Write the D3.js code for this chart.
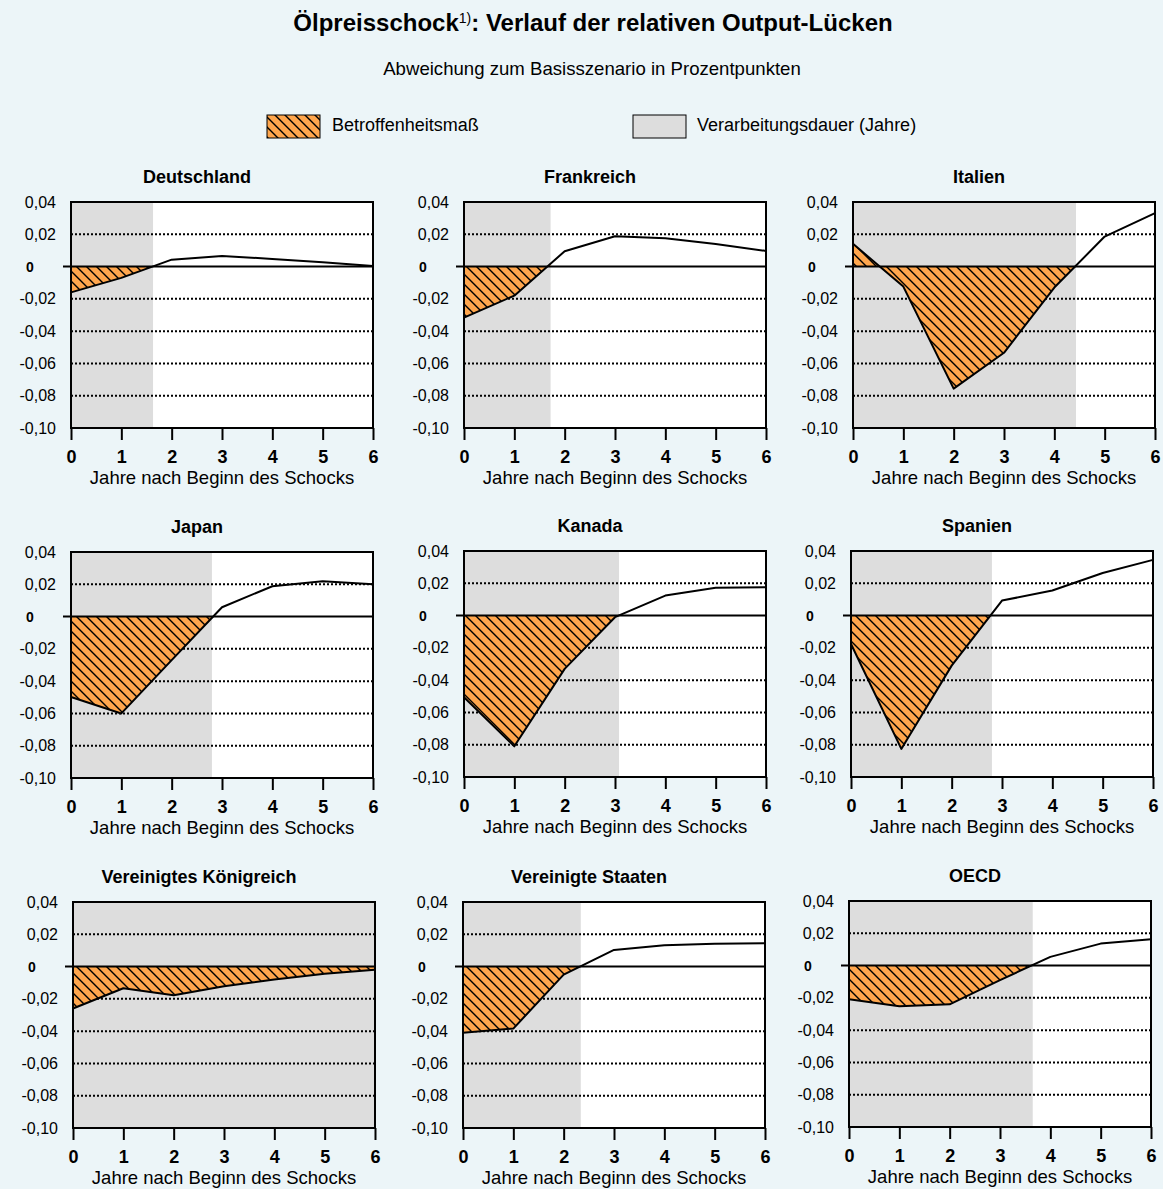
<!DOCTYPE html>
<html><head><meta charset="utf-8">
<script src="https://cdn.jsdelivr.net/npm/d3@7"></script>
<style>
body{margin:0;background:#ECF5F8;}
svg{display:block;font-family:Arial,"Liberation Sans",sans-serif;}
</style>
</head><body>
<svg id="c" width="1163" height="1189"></svg>
<script>
// ---------- data ----------
const years = [0, 1, 2, 3, 4, 5, 6];
const xTickLabels = ["0", "1", "2", "3", "4", "5", "6"];
const yTicks = [0.04, 0.02, 0, -0.02, -0.04, -0.06, -0.08, -0.10];
const yTickLabels = ["0,04", "0,02", "0", "-0,02", "-0,04", "-0,06", "-0,08", "-0,10"];
const countries = ["Deutschland", "Frankreich", "Italien", "Japan", "Kanada", "Spanien",
  "Vereinigtes Königreich", "Vereinigte Staaten", "OECD"];
const deutschland = [-0.016, -0.007, 0.0043, 0.0066, 0.0047, 0.0027, 0.0004];
const frankreich = [-0.0316, -0.018, 0.0095, 0.0188, 0.0176, 0.014, 0.0097];
const italien = [0.0141, -0.0124, -0.0756, -0.0534, -0.013, 0.0186, 0.0331];
const japan = [-0.0498, -0.060, -0.027, 0.0058, 0.0188, 0.0219, 0.020];
const kanada = [-0.0506, -0.081, -0.033, -0.001, 0.0124, 0.0173, 0.0175];
const spanien = [-0.0176, -0.0826, -0.031, 0.0093, 0.0155, 0.0264, 0.0345];
const vereinigtesKoenigreich = [-0.026, -0.0134, -0.0178, -0.0122, -0.008, -0.0045, -0.0019];
const vereinigteStaaten = [-0.041, -0.0384, -0.005, 0.0103, 0.0132, 0.0142, 0.0145];
const oecd = [-0.0209, -0.0252, -0.024, -0.009, 0.0054, 0.0136, 0.0163];
// Verarbeitungsdauer (Jahre)
const verarbeitungsdauer = [1.63, 1.72, 4.43, 2.80, 3.08, 2.80, 6, 2.34, 3.65];

const series = [deutschland, frankreich, italien, japan, kanada, spanien,
  vereinigtesKoenigreich, vereinigteStaaten, oecd];

// ---------- layout ----------
const panelLeft = [71, 464, 853, 71, 464, 851, 73, 463, 849];
const panelTop = [202, 202, 202, 552, 551, 551, 902, 902, 901];
const PW = 302, PH = 226;
const ORANGE = "#FFA64D", GRAY = "#DDDDDD";

const svg = d3.select("#c");
svg.append("rect").attr("width", 1163).attr("height", 1189).attr("fill", "#ECF5F8");

const defs = svg.append("defs");
const pat = defs.append("pattern").attr("id", "hatch")
  .attr("patternUnits", "userSpaceOnUse").attr("width", 10).attr("height", 10);
pat.append("rect").attr("width", 10).attr("height", 10).attr("fill", ORANGE);
pat.append("path").attr("d", "M-1,-1 L11,11 M-6,4 L4,14 M4,-6 L14,4")
  .attr("stroke", "#000").attr("stroke-width", 1.4);

// title
const title = svg.append("text").attr("x", 593).attr("y", 31)
  .attr("text-anchor", "middle").attr("font-size", 24).attr("font-weight", "bold").attr("fill", "#000");
title.append("tspan").text("Ölpreisschock");
title.append("tspan").attr("font-size", 14).attr("font-weight", "normal").attr("dy", -8).text("1)");
title.append("tspan").attr("dy", 8).text(": Verlauf der relativen Output-Lücken");

svg.append("text").attr("x", 592).attr("y", 75).attr("text-anchor", "middle")
  .attr("font-size", 18.6).attr("fill", "#000")
  .text("Abweichung zum Basisszenario in Prozentpunkten");

// legend
svg.append("rect").attr("x", 267).attr("y", 115).attr("width", 53).attr("height", 23)
  .attr("fill", "url(#hatch)").attr("stroke", "#000").attr("stroke-width", 1);
svg.append("text").attr("x", 332).attr("y", 131).attr("font-size", 18).text("Betroffenheitsmaß");
svg.append("rect").attr("x", 633).attr("y", 115).attr("width", 53).attr("height", 23)
  .attr("fill", GRAY).attr("stroke", "#000").attr("stroke-width", 1);
svg.append("text").attr("x", 697).attr("y", 131).attr("font-size", 18).text("Verarbeitungsdauer (Jahre)");

countries.forEach((name, i) => {
  const L = panelLeft[i], T = panelTop[i];
  const vals = series[i];
  const data = years.map((yr, k) => ({ yr, v: vals[k] }));
  const x = d3.scaleLinear().domain([0, 6]).range([L, L + PW]);
  const y = d3.scaleLinear().domain([-0.10, 0.04]).range([T + PH, T]);
  const g = svg.append("g");

  g.append("rect").attr("x", x(0)).attr("y", y(0.04)).attr("width", x(6) - x(0))
    .attr("height", y(-0.10) - y(0.04)).attr("fill", "#fff");
  g.append("rect").attr("x", x(0)).attr("y", y(0.04)).attr("width", x(verarbeitungsdauer[i]) - x(0))
    .attr("height", y(-0.10) - y(0.04)).attr("fill", GRAY);

  // dotted grid
  g.selectAll("line.grid").data(yTicks.filter(v => v !== 0 && v !== 0.04 && v !== -0.10))
    .enter().append("line").attr("class", "grid")
    .attr("x1", x(0)).attr("x2", x(6)).attr("y1", d => y(d)).attr("y2", d => y(d))
    .attr("stroke", "#000").attr("stroke-width", 2).attr("stroke-dasharray", "2,2");

  // hatched area
  const cid = "clip" + i;
  defs.append("clipPath").attr("id", cid).append("rect")
    .attr("x", x(0)).attr("y", y(0.04)).attr("width", x(verarbeitungsdauer[i]) - x(0))
    .attr("height", y(-0.10) - y(0.04));
  const area = d3.area().x(d => x(d.yr)).y0(y(0)).y1(d => y(d.v));
  g.append("path").datum(data).attr("d", area).attr("fill", "url(#hatch)")
    .attr("clip-path", `url(#${cid})`);

  // zero line
  g.append("line").attr("x1", x(0) - 8).attr("x2", x(6)).attr("y1", y(0)).attr("y2", y(0))
    .attr("stroke", "#000").attr("stroke-width", 2);

  // curve
  const line = d3.line().x(d => x(d.yr)).y(d => y(d.v));
  g.append("path").datum(data).attr("d", line).attr("fill", "none")
    .attr("stroke", "#000").attr("stroke-width", 2).attr("stroke-linejoin", "round");

  // frame
  g.append("rect").attr("x", x(0)).attr("y", y(0.04)).attr("width", x(6) - x(0))
    .attr("height", y(-0.10) - y(0.04)).attr("fill", "none")
    .attr("stroke", "#000").attr("stroke-width", 2);

  // x axis
  const xa = g.append("g").attr("transform", `translate(0,${y(-0.10)})`)
    .call(d3.axisBottom(x).tickValues(years).tickSize(12).tickPadding(10)
      .tickFormat((d, k) => xTickLabels[k]));
  xa.select(".domain").remove();
  xa.selectAll("line").attr("stroke", "#000").attr("stroke-width", 2);
  xa.selectAll("text").attr("font-size", 18).attr("font-weight", "bold")
    .attr("font-family", "Arial, 'Liberation Sans', sans-serif").attr("fill", "#000");

  // y axis
  const ya = g.append("g").attr("transform", `translate(${x(0)},0)`)
    .call(d3.axisLeft(y).tickValues(yTicks).tickSize(0).tickPadding(15)
      .tickFormat((d, k) => yTickLabels[k]));
  ya.select(".domain").remove();
  ya.selectAll("text").attr("font-size", 16)
    .attr("font-family", "Arial, 'Liberation Sans', sans-serif").attr("fill", "#000");
  ya.selectAll(".tick").filter(d => d === 0).select("text")
    .attr("text-anchor", "start").attr("x", -45).attr("font-weight", "bold").attr("font-size", 14);

  // panel title
  g.append("text").attr("x", L + 126).attr("y", T - 19).attr("text-anchor", "middle")
    .attr("font-size", 18).attr("font-weight", "bold").text(name);
  // x axis title
  g.append("text").attr("x", L + PW / 2).attr("y", T + PH + 56).attr("text-anchor", "middle")
    .attr("font-size", 18.5).text("Jahre nach Beginn des Schocks");
});
</script>
</body></html>
